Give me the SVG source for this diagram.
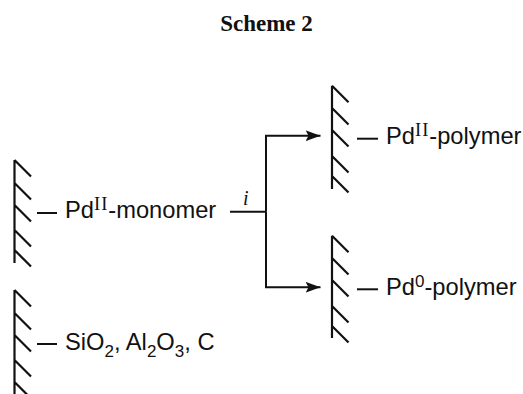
<svg xmlns="http://www.w3.org/2000/svg" width="523" height="394" viewBox="0 0 523 394">
<style>
.w{fill:none;stroke:#111;stroke-width:2.2}
.l{fill:none;stroke:#111;stroke-width:2}
.t{font-family:"Liberation Sans",Arial,sans-serif;font-size:23.700px;fill:#111}
.s{font-size:17px}
.r{font-family:"Liberation Serif","Times New Roman",serif;font-size:18.500px;letter-spacing:1px}
</style>
<defs>
<marker id="a" markerUnits="userSpaceOnUse" markerWidth="16" markerHeight="12" refX="15" refY="6" orient="auto"><path d="M0 .5L15 6L0 11.500L3 6Z" fill="#111"/></marker>
</defs>
<text id="title" x="266.500" y="31" text-anchor="middle" style="font-family:'Liberation Serif','Times New Roman',serif;font-weight:bold;font-size:23px;fill:#111">Scheme 2</text>
<g id="connectors">
<path class="l" d="M230 211.700H266"/>
<path class="l" d="M266 211.700V135.700H320.500" marker-end="url(#a)"/>
<path class="l" d="M266 211.700V287.300H320.500" marker-end="url(#a)"/>
<text x="243" y="205" style="font-family:'Liberation Serif','Times New Roman',serif;font-style:italic;font-size:20px;fill:#111">i</text>
</g>
<g id="pd2-monomer">
<path class="w" d="M14.500 160V263M14.500 160l16.500 16.500M14.500 183l16.500 16.500M14.500 205l16.500 16.500M14.500 230l16.500 16.500M14.500 250l16.500 16.500"/>
<path class="l" d="M37 213H57"/>
<text class="t" x="65" y="218">Pd<tspan class="r" dy="-8.500">II</tspan><tspan dy="8.500">-monomer</tspan></text>
</g>
<g id="support">
<path class="w" d="M14.500 290V394M14.500 290l16.500 16.500M14.500 313l16.500 16.500M14.500 335l16.500 16.500M14.500 360l16.500 16.500M14.500 382l16.500 16.500"/>
<path class="l" d="M37 344H57"/>
<text class="t" x="65" y="350">SiO<tspan class="s" dy="7">2</tspan><tspan dy="-7">, Al</tspan><tspan class="s" dy="7">2</tspan><tspan dy="-7">O</tspan><tspan class="s" dy="7">3</tspan><tspan dy="-7">, C</tspan></text>
</g>
<g id="pd2-polymer">
<path class="w" d="M332 85.700V189M332 85.700l16.500 16.500M332 108l16.500 16.500M332 130l16.500 16.500M332 156l16.500 16.500M332 176l16.500 16.500"/>
<path class="l" d="M357 138.700H378"/>
<text class="t" x="386" y="144">Pd<tspan class="r" dy="-8.500">II</tspan><tspan dy="8.500">-polymer</tspan></text>
</g>
<g id="pd0-polymer">
<path class="w" d="M332 235.700V338M332 235.700l16.500 16.500M332 258l16.500 16.500M332 280l16.500 16.500M332 306l16.500 16.500M332 326l16.500 16.500"/>
<path class="l" d="M357 289.300H378"/>
<text class="t" x="386" y="295">Pd<tspan class="s" dy="-8.500">0</tspan><tspan dy="8.500">-polymer</tspan></text>
</g>
</svg>
